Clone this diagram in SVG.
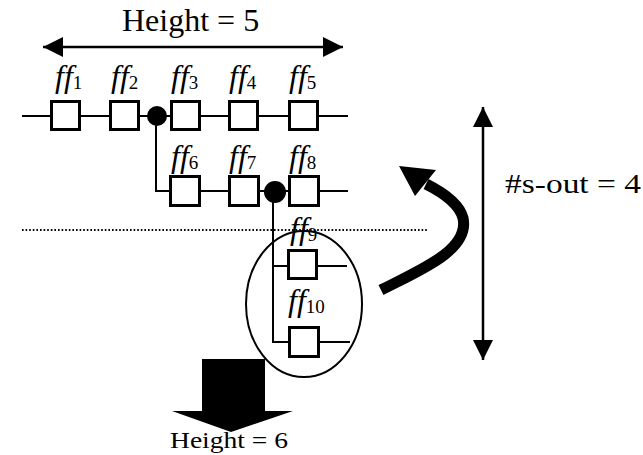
<svg xmlns="http://www.w3.org/2000/svg" width="643" height="455" viewBox="0 0 643 455">
  <style>
    .wire { fill: none; stroke: #000; stroke-width: 2; }
    .ff { fill: #fff; stroke: #000; stroke-width: 3; }
    .dot { fill: #000; }
    .lbl { font-family: "Liberation Serif", "Times New Roman", serif; font-style: italic; font-size: 32px; fill: #000; }
    .sub { font-style: normal; font-size: 19px; }
    .cap { font-family: "Liberation Serif", "Times New Roman", serif; fill: #000; }
    .arrow { fill: none; stroke: #000; stroke-width: 2.5; }
  </style>
  <defs>
    <marker id="head" viewBox="0 0 20 20" refX="20" refY="10" markerWidth="20" markerHeight="20" markerUnits="userSpaceOnUse" orient="auto-start-reverse">
      <path d="M0,0 L20,10 L0,20 Z" fill="#000"/>
    </marker>
  </defs>

  <rect width="643" height="455" fill="#fff"/>

  <!-- connectors: chain wiring, scan tap points, dimension arrows -->
  <g id="connectors">
    <path class="wire" d="M22,116 H348"/>
    <path class="wire" d="M156,116 V191 H348"/>
    <path class="wire" d="M273,192 V342 H350 M273,266 H347"/>
    <circle class="dot" cx="157" cy="116" r="10"/>
    <circle class="dot" cx="275" cy="192" r="11"/>
    <line x1="22" y1="230" x2="428" y2="230" stroke="#000" stroke-width="2" stroke-dasharray="1.6 2"/>
    <line class="arrow" x1="43" y1="47" x2="343" y2="47" marker-start="url(#head)" marker-end="url(#head)"/>
    <line class="arrow" x1="483" y1="107" x2="483" y2="360" marker-start="url(#head)" marker-end="url(#head)"/>
    <ellipse cx="304" cy="304" rx="58" ry="73" fill="none" stroke="#000" stroke-width="2"/>
    <path d="M381,290 C420,270 470,250 463,218 C459,203 442,192 426,184" fill="none" stroke="#000" stroke-width="11"/>
    <polygon points="399,166 415,196 436,170" fill="#000"/>
    <polygon points="202,359 265,359 265,411 293,411 231,432 172,411 202,411" fill="#000"/>
  </g>

  <!-- flip-flops -->
  <g id="ff1"><rect class="ff" x="51.5" y="101.5" width="28" height="28"/><text class="lbl" x="55" y="87">ff<tspan class="sub" dy="2">1</tspan></text></g>
  <g id="ff2"><rect class="ff" x="110.5" y="101.5" width="28" height="28"/><text class="lbl" x="111" y="87">ff<tspan class="sub" dy="2">2</tspan></text></g>
  <g id="ff3"><rect class="ff" x="171.5" y="101.5" width="28" height="28"/><text class="lbl" x="171" y="87">ff<tspan class="sub" dy="2">3</tspan></text></g>
  <g id="ff4"><rect class="ff" x="229.5" y="101.5" width="28" height="28"/><text class="lbl" x="229" y="87">ff<tspan class="sub" dy="2">4</tspan></text></g>
  <g id="ff5"><rect class="ff" x="289.5" y="101.5" width="28" height="28"/><text class="lbl" x="289" y="87">ff<tspan class="sub" dy="2">5</tspan></text></g>
  <g id="ff6"><rect class="ff" x="170.5" y="176.5" width="29" height="29"/><text class="lbl" x="171" y="167">ff<tspan class="sub" dy="2">6</tspan></text></g>
  <g id="ff7"><rect class="ff" x="229.5" y="176.5" width="29" height="29"/><text class="lbl" x="229" y="167">ff<tspan class="sub" dy="2">7</tspan></text></g>
  <g id="ff8"><rect class="ff" x="289.5" y="176.5" width="29" height="29"/><text class="lbl" x="289" y="167">ff<tspan class="sub" dy="2">8</tspan></text></g>
  <g id="ff9"><rect class="ff" x="288.5" y="250.5" width="28" height="28"/><text class="lbl" x="290" y="239">ff<tspan class="sub" dy="2">9</tspan></text></g>
  <g id="ff10"><rect class="ff" x="289.5" y="327.5" width="29" height="29"/><text class="lbl" x="288" y="311">ff<tspan class="sub" dy="2">10</tspan></text></g>

  <!-- dimension captions -->
  <g id="captions">
    <text class="cap" x="122" y="31" font-size="32">Height = 5</text>
    <text class="cap" x="505" y="193" font-size="28" textLength="136" lengthAdjust="spacingAndGlyphs">#s-out = 4</text>
    <text class="cap" x="170" y="448" font-size="23" textLength="118" lengthAdjust="spacingAndGlyphs">Height = 6</text>
  </g>
</svg>
